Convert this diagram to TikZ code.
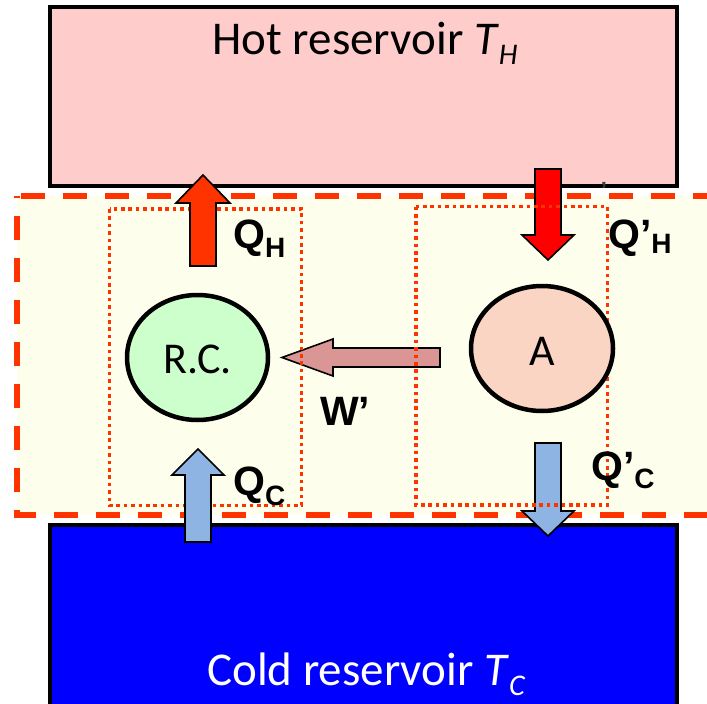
\documentclass[tikz,border=0pt]{standalone}
\usepackage{fontspec}
\usetikzlibrary{shapes.geometric}
\setmainfont{Carlito}
\newfontfamily\labfont{Liberation Sans}[BoldFont={Liberation Sans Bold}]
\definecolor{hotfill}{HTML}{FFCCCC}
\definecolor{coldfill}{HTML}{0000FF}
\definecolor{sysfill}{HTML}{FEFEED}
\definecolor{dashred}{HTML}{FF3300}
\definecolor{rcfill}{HTML}{CCFFCC}
\definecolor{afill}{HTML}{FBD5C3}
\definecolor{qhcol}{HTML}{FF3300}
\definecolor{qhpcol}{HTML}{FF0000}
\definecolor{qccol}{HTML}{8EB4E3}
\definecolor{wcol}{HTML}{D99694}
\tikzset{
  reservoir/.style={draw=black, line width=4.5pt},
  sysbox/.style={draw=dashred, line width=6pt, dash pattern=on 24pt off 18pt, dash phase=38pt, fill=sysfill},
  subbox/.style={draw=dashred, line width=3.6pt, dash pattern=on 3.6pt off 3.8pt},
  engine/.style={draw=black, line width=4.5pt},
  fatarrow/.style={draw=black, line width=1.6pt, line join=miter},
  lab/.style={font=\labfont\bfseries\fontsize{41}{41}\selectfont, anchor=base west, inner sep=0pt},
  restext/.style={font=\fontsize{47}{47}\selectfont, anchor=base, inner sep=0pt},
}
\newcommand{\subl}[2]{\raisebox{-#1pt}{\fontsize{28}{28}\selectfont #2}}
\begin{document}
\begin{tikzpicture}[x=1pt,y=-1pt]
\useasboundingbox (0,0) rectangle (707,704);
\clip (0,0) rectangle (707,704);
% reservoirs
\path[reservoir, fill=hotfill] (50,7) rectangle (677,186);
\coordinate (hot) at (363.5,96.5);
\path[reservoir, fill=coldfill] (50,525) rectangle (677,720);
\node[restext] (hottext) at (365,54) {Hot reservoir \textit{T}\raisebox{-10pt}{\fontsize{30}{30}\selectfont\itshape H}};
\node[restext, text=white] (coldtext) at (366,685) {Cold reservoir \textit{T}\raisebox{-10pt}{\fontsize{30}{30}\selectfont\itshape C}};
% system
\path[sysbox] (17,196) -- (730,196) -- (730,515) -- (17,515) -- cycle;
\node[font=\labfont\bfseries\fontsize{22}{22}\selectfont, text=black!75, inner sep=0pt] (stray) at (604,190) {’};
% work arrow
\path[fatarrow, fill=wcol] (440,348) -- (333,348) -- (333,339) -- (282,357.5) -- (333,376) -- (333,367) -- (440,367) -- cycle;
% left dotted box
\path[subbox] (109.5,209) rectangle (301.5,505.5);
% left arrows
\path[fatarrow, fill=qhcol] (190,266) -- (190,203) -- (176,203) -- (203,175) -- (230,203) -- (216,203) -- (216,266) -- cycle;
\path[fatarrow, fill=qccol] (185,542) -- (185,475) -- (172,475) -- (198,449) -- (224,475) -- (211,475) -- (211,542) -- cycle;
% right arrows
\path[fatarrow, fill=qhpcol] (535,169) -- (535,235) -- (522,235) -- (548,260) -- (574,235) -- (561,235) -- (561,169) -- cycle;
\path[fatarrow, fill=qccol] (535,443) -- (535,511) -- (522,511) -- (548,536) -- (574,511) -- (561,511) -- (561,443) -- cycle;
% right dotted box
\path[subbox] (416,206.5) rectangle (607.5,505);
% engines
\node[engine, fill=rcfill, ellipse, minimum width=141pt, minimum height=125pt, inner sep=0pt] (rc) at (197.5,357.5) {};
\node[font=\fontsize{44}{44}\selectfont, anchor=base, inner sep=0pt] (rctext) at (197.5,373) {R.C.};
\node[engine, fill=afill, ellipse, minimum width=142pt, minimum height=125pt, inner sep=0pt] (a) at (542,348.5) {};
\node[font=\fontsize{44}{44}\selectfont, anchor=base, inner sep=0pt] (atext) at (542,365) {A};
% labels
\node[lab] (qh) at (233,248) {Q\subl{9}{H}};
\node[lab] (qhp) at (608,248) {Q’\subl{5}{H}};
\node[lab] (w) at (320,425) {W’};
\node[lab] (qc) at (233,495) {Q\subl{10}{C}};
\node[lab] (qcp) at (591,480) {Q’\subl{8}{C}};
\end{tikzpicture}
\end{document}
